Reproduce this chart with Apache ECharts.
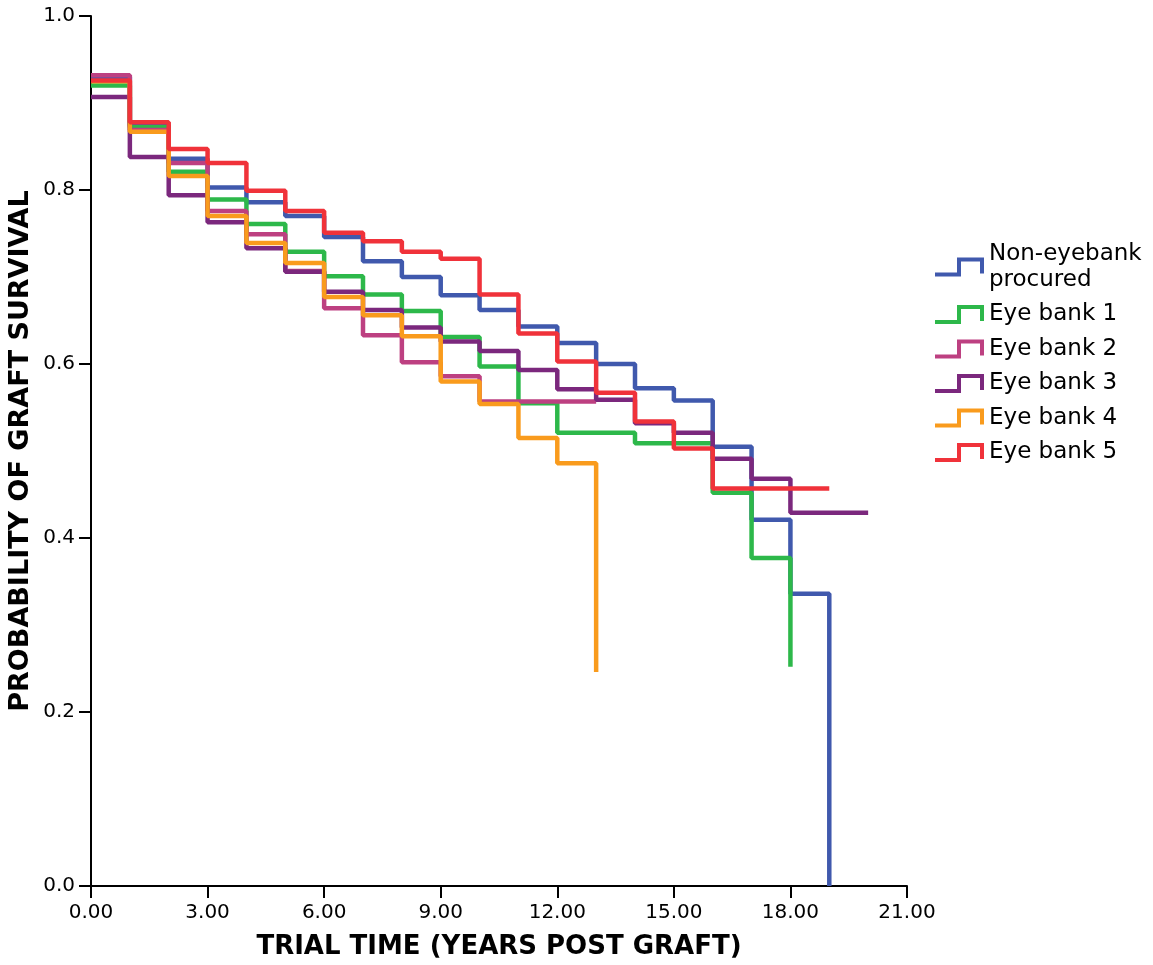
<!DOCTYPE html>
<html>
<head>
<meta charset="utf-8">
<script src="https://cdn.jsdelivr.net/npm/echarts@6/dist/echarts.min.js"></script>
<style>
  html, body { margin: 0; padding: 0; background: #fff; }
  #main { width: 1153px; height: 965px; }
</style>
</head>
<body>
<div id="main"></div>
<script>
// years post graft, survival estimate holds from that year to the next
const years = [0, 1, 2, 3, 4, 5, 6, 7, 8, 9, 10, 11, 12, 13, 14, 15, 16, 17, 18, 19, 20];

const nonEyebank = [0.930, 0.874, 0.836, 0.803, 0.786, 0.770, 0.746, 0.718, 0.700, 0.679, 0.662, 0.643, 0.624, 0.600, 0.572, 0.558, 0.505, 0.421, 0.336, 0.0];
const eyeBank1 = [0.920, 0.872, 0.821, 0.789, 0.761, 0.729, 0.701, 0.680, 0.661, 0.631, 0.597, 0.555, 0.521, 0.521, 0.509, 0.509, 0.452, 0.377, 0.252];
const eyeBank2 = [0.932, 0.869, 0.831, 0.776, 0.749, 0.707, 0.664, 0.633, 0.602, 0.586, 0.557, 0.557, 0.557, 0.557];
const eyeBank3 = [0.907, 0.838, 0.794, 0.763, 0.733, 0.706, 0.683, 0.662, 0.642, 0.626, 0.615, 0.593, 0.571, 0.559, 0.532, 0.521, 0.491, 0.468, 0.429, 0.429, 0.429];
const eyeBank4 = [0.925, 0.867, 0.816, 0.770, 0.739, 0.716, 0.677, 0.656, 0.632, 0.580, 0.554, 0.515, 0.486, 0.246];
const eyeBank5 = [0.926, 0.878, 0.847, 0.831, 0.799, 0.776, 0.751, 0.741, 0.729, 0.721, 0.680, 0.635, 0.603, 0.567, 0.534, 0.503, 0.457, 0.457, 0.457, 0.457];

const names = ['Non-eyebank\nprocured', 'Eye bank 1', 'Eye bank 2', 'Eye bank 3', 'Eye bank 4', 'Eye bank 5'];
const colors = ['#4059ad', '#2db84a', '#bd4081', '#7b287d', '#f99b1d', '#f0323a'];
const allSeries = [nonEyebank, eyeBank1, eyeBank2, eyeBank3, eyeBank4, eyeBank5];

function toPoints(vals) {
    return vals.map((v, i) => [years[i], v]);
}

const chart = echarts.init(document.getElementById('main'));

const stepIcon = 'path://M0,15L22,15L22,0L49,0L49,16L45,16L45,4L26,4L26,19L0,19Z';
const font = 'DejaVu Sans, Arial, sans-serif';

const option = {
    animation: false,
    color: colors,
    textStyle: { fontFamily: font },
    grid: { left: 91, right: 246, top: 16, bottom: 79, outerBoundsMode: 'none' },
    legend: {
        orient: 'vertical',
        left: 930,
        top: 236,
        icon: stepIcon,
        itemWidth: 49,
        itemHeight: 19,
        itemGap: 8.5,
        textStyle: { fontSize: 23, color: '#000', lineHeight: 26, fontFamily: font },
        data: names
    },
    xAxis: {
        type: 'value',
        min: 0,
        max: 21,
        interval: 3,
        name: 'TRIAL TIME (YEARS POST GRAFT)',
        nameLocation: 'middle',
        nameGap: 48,
        nameTextStyle: { fontSize: 26, fontWeight: 'bold', color: '#000', fontFamily: font },
        axisLine: { lineStyle: { color: '#000', width: 2 } },
        axisTick: { show: true, length: 12, lineStyle: { color: '#000', width: 2 } },
        axisLabel: { fontSize: 20, color: '#000', margin: 17, formatter: v => v.toFixed(2) },
        splitLine: { show: false }
    },
    yAxis: {
        type: 'value',
        min: 0,
        max: 1,
        interval: 0.2,
        name: 'PROBABILITY OF GRAFT SURVIVAL',
        nameLocation: 'middle',
        nameGap: 57,
        nameMoveOverlap: false,
        nameTextStyle: { fontSize: 27, fontWeight: 'bold', color: '#000', fontFamily: font },
        axisLine: { show: true, lineStyle: { color: '#000', width: 2 } },
        axisTick: { show: true, length: 12, lineStyle: { color: '#000', width: 2 } },
        axisLabel: { fontSize: 20, color: '#000', margin: 16, formatter: v => v.toFixed(1) },
        splitLine: { show: false }
    },
    series: allSeries.map((vals, i) => ({
        name: names[i],
        type: 'line',
        step: 'end',
        showSymbol: false,
        data: toPoints(vals),
        lineStyle: { width: 4.5, color: colors[i] },
        itemStyle: { color: colors[i] },
        z: 2 + i
    }))
};

chart.setOption(option);
</script>
</body>
</html>
